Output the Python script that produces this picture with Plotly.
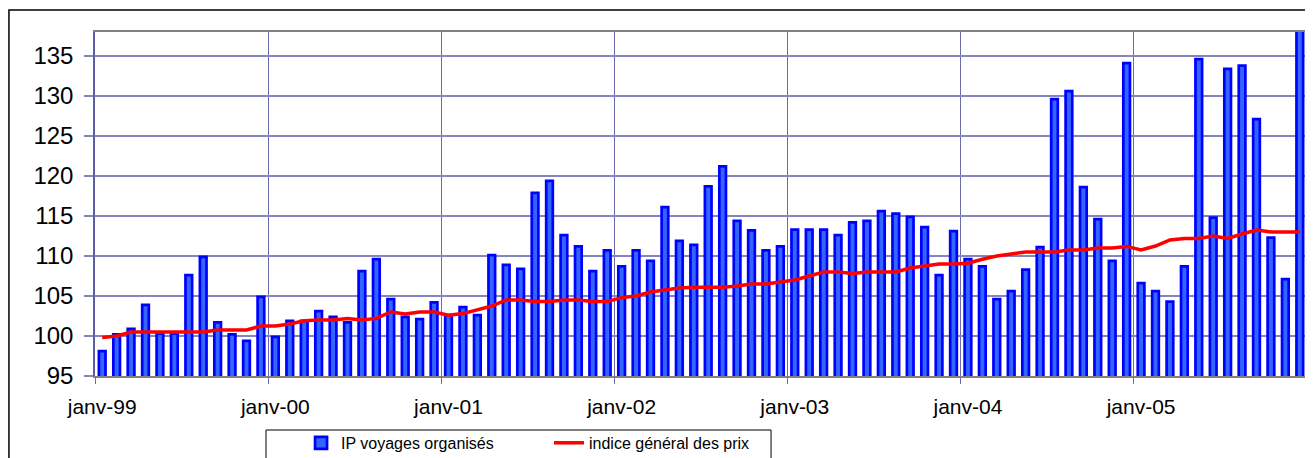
import plotly.graph_objects as go

month_names = ["janv", "févr", "mars", "avr", "mai", "juin",
               "juil", "août", "sept", "oct", "nov", "déc"]
years = ["99", "00", "01", "02", "03", "04", "05"]
months = [f"{m}-{y}" for y in years for m in month_names]

ip_voyages = [
    98.1, 100.2, 100.9, 103.9, 100.3, 100.3, 107.6, 109.9, 101.7, 100.2, 99.4, 104.9,
    99.9, 101.9, 101.9, 103.1, 102.4, 101.7, 108.1, 109.6, 104.6, 102.4, 102.1, 104.2,
    102.6, 103.6, 102.6, 110.1, 108.9, 108.4, 117.9, 119.4, 112.6, 111.2, 108.1, 110.7,
    108.7, 110.7, 109.4, 116.1, 111.9, 111.4, 118.7, 121.2, 114.4, 113.2, 110.7, 111.2,
    113.3, 113.3, 113.3, 112.6, 114.2, 114.4, 115.6, 115.3, 114.9, 113.6, 107.6, 113.1,
    109.6, 108.7, 104.6, 105.6, 108.3, 111.1, 129.6, 130.6, 118.6, 114.6, 109.4, 134.1,
    106.6, 105.6, 104.3, 108.7, 134.6, 114.8, 133.4, 133.8, 127.1, 112.3, 107.1, 138.5,
]
indice_general = [
    99.8, 100.0, 100.5, 100.5, 100.5, 100.5, 100.5, 100.5, 100.75, 100.75, 100.75, 101.25,
    101.25, 101.5, 101.9, 102.0, 102.0, 102.2, 102.0, 102.2, 103.0, 102.75, 103.0, 103.0,
    102.6, 102.8, 103.3, 103.75, 104.5, 104.5, 104.3, 104.3, 104.5, 104.5, 104.3, 104.3,
    104.8, 105.0, 105.5, 105.75, 106.0, 106.1, 106.1, 106.1, 106.25, 106.5, 106.5, 106.8,
    107.0, 107.5, 108.0, 108.0, 107.8, 108.0, 108.0, 108.0, 108.5, 108.8, 109.0, 109.0,
    109.1, 109.6, 110.0, 110.25, 110.5, 110.5, 110.5, 110.75, 110.75, 111.0, 111.0, 111.2,
    110.75, 111.25, 112.0, 112.2, 112.2, 112.5, 112.2, 112.75, 113.25, 113.0, 113.0, 113.0,
]
y_ticks = [95, 100, 105, 110, 115, 120, 125, 130, 135]

idx = list(range(len(months)))
label_pos = idx[::12]
label_text = months[::12]
year_bounds = [i - 0.5 for i in label_pos] + [len(months) - 0.5]

font = "Liberation Sans, Arial, sans-serif"
grid = "#8585c2"

fig = go.Figure()
fig.add_trace(go.Bar(
    x=idx, y=ip_voyages, name="IP voyages organisés", legend="legend",
    marker=dict(color="#3366ff", line=dict(color="#0000ff", width=2.7)),
    cliponaxis=False,
))
fig.add_trace(go.Scatter(
    x=idx, y=indice_general, name="indice général des prix", mode="lines",
    legend="legend2", line=dict(color="#ff0000", width=3.5),
))

# the page body keeps its default 8px margin, so the figure is 8px smaller
leg = dict(orientation="h", xanchor="left", yanchor="top", y=-0.145,
           bgcolor="rgba(0,0,0,0)", borderwidth=0, font=dict(size=16))

fig.update_layout(
    width=1305, height=450,
    margin=dict(l=87, r=6, t=24, b=82, autoexpand=False),
    paper_bgcolor="white", plot_bgcolor="white",
    bargap=0.54,
    font=dict(family=font, color="black"),
    showlegend=True,
    legend=dict(leg, x=0.170),
    legend2=dict(leg, x=0.3746),
    shapes=[
        dict(type="rect", xref="paper", yref="paper",
             x0=-0.071, x1=1.02, y0=-0.3, y1=1.064,
             line=dict(color="black", width=1.5), layer="below"),
        dict(type="rect", xref="paper", yref="paper",
             x0=0.1411, x1=0.5578, y0=-0.3, y1=-0.157,
             line=dict(color="black", width=1), fillcolor="white", layer="below"),
        dict(type="line", xref="paper", yref="paper",
             x0=1, x1=1, y0=0, y1=1, line=dict(color="#999999", width=2)),
    ],
)

fig.update_xaxes(
    range=[-0.5, len(months) - 0.5],
    tickvals=label_pos, ticktext=label_text, ticks="",
    showgrid=False, zeroline=False,
    tickfont=dict(size=21), ticklabelstandoff=11,
    showline=True, linecolor="#808080", linewidth=2, mirror=True,
    minor=dict(tickvals=year_bounds, showgrid=True, gridcolor="#6a6aae",
               gridwidth=1, ticks="outside", ticklen=6, tickcolor="#6a6aae"),
)
fig.update_yaxes(
    range=[95, 138], tickvals=y_ticks,
    showgrid=True, gridcolor=grid, gridwidth=1.5,
    ticks="outside", ticklen=9, tickcolor=grid, tickwidth=1.5,
    tickfont=dict(size=24), ticklabelstandoff=6, zeroline=False,
    showline=True, linecolor="#5c5ca8", linewidth=1.5,
)

fig.write_html("out.html")
